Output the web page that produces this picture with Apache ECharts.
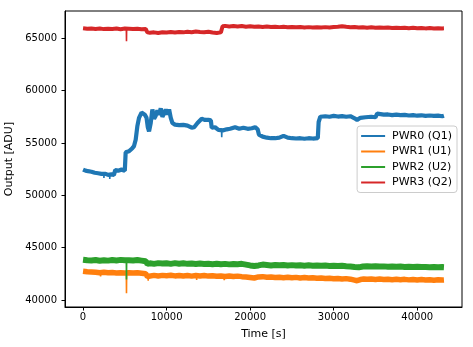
<!DOCTYPE html>
<html>
<head>
<meta charset="utf-8">
<script src="https://cdn.jsdelivr.net/npm/echarts@6/dist/echarts.min.js"></script>
<style>html,body{margin:0;padding:0;background:#fff}#c{width:473px;height:347px}</style>
</head>
<body>
<div id="c"></div>
<script>
const seriesNames = ['PWR0 (Q1)', 'PWR1 (U1)', 'PWR2 (U2)', 'PWR3 (Q2)'];
const xTicks = [0, 10000, 20000, 30000, 40000];
const yTicks = [40000, 45000, 50000, 55000, 60000, 65000];

const pwr0 = [[0,52450],[300,52350],[600,52300],[1000,52250],[1400,52150],[1800,52100],[2200,52050],[2700,52050],[3000,51950],[3400,52000],[3700,51950],[3850,52400],[4200,52350],[4600,52450],[5000,52350],[5100,54100],[5500,54200],[5900,54500],[6100,54700],[6300,55300],[6500,56600],[6700,57400],[7000,57900],[7200,58000],[7400,57700],[7600,57400],[7750,56500],[7900,56100],[8100,56900],[8300,58200],[8500,57300],[8700,57600],[8900,58100],[9100,57700],[9300,58300],[9500,57500],[9700,57800],[9900,58200],[10100,57700],[10300,58200],[10500,57400],[10700,56900],[11000,56750],[11500,56700],[12000,56720],[12500,56650],[13000,56450],[13300,56500],[13700,56900],[14200,57300],[14600,57200],[15000,57200],[15300,57150],[15400,56450],[15800,56500],[16200,56250],[16800,56200],[17200,56300],[17600,56350],[18200,56500],[18700,56350],[19200,56450],[19700,56350],[20200,56400],[20600,56500],[20900,56300],[21050,55800],[21500,55600],[22000,55500],[22500,55450],[23000,55450],[23500,55500],[24000,55680],[24500,55500],[25000,55450],[25500,55420],[26000,55450],[26500,55400],[27000,55450],[27500,55420],[28100,55450],[28200,57000],[28400,57500],[29000,57550],[29500,57500],[30000,57580],[30500,57520],[31000,57560],[31500,57500],[32000,57550],[32500,57350],[32800,57200],[33200,57400],[33800,57450],[34500,57500],[35000,57450],[35200,57800],[35600,57750],[36000,57700],[36500,57720],[37000,57650],[37500,57700],[38000,57650],[38500,57680],[39000,57620],[39500,57660],[40000,57600],[40500,57640],[41000,57580],[41500,57620],[42000,57580],[42500,57600],[43000,57550],[43200,57600]];

const pwr1 = [[0,42750],[500,42700],[1000,42680],[1500,42650],[2000,42600],[2500,42650],[3000,42600],[3500,42620],[4000,42580],[4500,42600],[5000,42580],[5500,42600],[6000,42570],[6500,42600],[7000,42550],[7500,42500],[7700,42250],[7900,42300],[8500,42350],[9000,42300],[9500,42350],[10000,42320],[10500,42360],[11000,42300],[11500,42340],[12000,42290],[12500,42330],[13000,42280],[13500,42330],[14000,42300],[14500,42340],[15000,42280],[15500,42310],[16000,42260],[16500,42300],[17000,42250],[17500,42290],[18000,42240],[18500,42280],[19000,42230],[19500,42200],[20000,42150],[20500,42100],[21000,42200],[21500,42230],[22000,42180],[22500,42200],[23000,42150],[23500,42180],[24000,42130],[24500,42170],[25000,42120],[25500,42160],[26000,42100],[26500,42140],[27000,42090],[27500,42120],[28000,42070],[28500,42100],[29000,42050],[29500,42080],[30000,42030],[30500,42060],[31000,42010],[31500,42040],[32000,41990],[32500,41900],[32800,41840],[33200,41950],[33600,42000],[34000,41970],[34500,42010],[35000,41960],[35500,42000],[36000,41950],[36500,41990],[37000,41940],[37500,41980],[38000,41930],[38500,41970],[39000,41920],[39500,41960],[40000,41910],[40500,41950],[41000,41900],[41500,41940],[42000,41890],[42500,41930],[43000,41900],[43200,41910]];

const pwr2 = [[0,43850],[500,43800],[1000,43780],[1500,43820],[2000,43750],[2500,43800],[3000,43760],[3500,43820],[4000,43780],[4500,43830],[5000,43800],[5500,43800],[6000,43780],[6500,43820],[7000,43760],[7500,43700],[7700,43450],[8000,43500],[8500,43450],[9000,43520],[9500,43480],[10000,43500],[10500,43450],[11000,43520],[11500,43470],[12000,43500],[12500,43450],[13000,43480],[13500,43430],[14000,43480],[14500,43440],[15000,43470],[15500,43420],[16000,43460],[16500,43410],[17000,43450],[17500,43400],[18000,43440],[18500,43420],[19000,43450],[19500,43380],[20000,43300],[20500,43250],[21000,43300],[21500,43380],[22000,43340],[22500,43300],[23000,43350],[23500,43320],[24000,43340],[24500,43300],[25000,43330],[25500,43290],[26000,43320],[26500,43280],[27000,43310],[27500,43270],[28000,43300],[28500,43260],[29000,43290],[29500,43250],[30000,43280],[30500,43240],[31000,43270],[31500,43230],[32000,43200],[32500,43150],[33000,43120],[33500,43200],[34000,43230],[34500,43200],[35000,43220],[35500,43190],[36000,43210],[36500,43180],[37000,43200],[37500,43170],[38000,43190],[38500,43160],[39000,43180],[39500,43150],[40000,43170],[40500,43140],[41000,43160],[41500,43130],[42000,43150],[42500,43120],[43000,43140],[43200,43130]];

const pwr3 = [[0,65950],[500,65900],[1000,65930],[1500,65880],[2000,65920],[2500,65870],[3000,65910],[3500,65890],[4000,65930],[4500,65860],[5000,65920],[5500,65900],[6000,65870],[6500,65910],[7000,65850],[7500,65880],[7700,65560],[8000,65520],[8500,65560],[9000,65500],[9500,65570],[10000,65540],[10500,65590],[11000,65550],[11500,65600],[12000,65560],[12500,65620],[13000,65580],[13500,65640],[14000,65600],[14500,65570],[15000,65610],[15500,65540],[16000,65500],[16500,65560],[16700,66150],[17000,66180],[17500,66130],[18000,66170],[18500,66120],[19000,66160],[19500,66100],[20000,66140],[20500,66090],[21000,66120],[21500,66080],[22000,66110],[22500,66070],[23000,66100],[23500,66060],[24000,66090],[24500,66050],[25000,66080],[25500,66040],[26000,66070],[26500,66030],[27000,66060],[27500,66020],[28000,66050],[28500,66020],[29000,66060],[29500,66030],[30000,66070],[30500,66100],[31000,66150],[31500,66090],[32000,66040],[32500,66070],[33000,66020],[33500,66050],[34000,66010],[34500,66040],[35000,66000],[35500,66030],[36000,65990],[36500,66020],[37000,65980],[37500,66010],[38000,65970],[38500,66000],[39000,65960],[39500,65990],[40000,65950],[40500,65980],[41000,65940],[41500,65970],[42000,65930],[42500,65960],[43000,65940],[43200,65950]];

// short narrow glitches (drawn thin, same channel colours)
const spikes0 = [[2480,52000],[2500,51650],[2520,52000],null,[3180,52000],[3200,51550],[3220,52000],null,[16580,56100],[16600,55550],[16620,56100],[16700,56200]];
const spikes1 = [[2080,42600],[2100,42250],[2120,42600],null,[5180,42500],[5200,40650],[5220,42500],null,[7780,42300],[7800,41850],[7820,42300],null,[13580,42300],[13600,41900],[13620,42300],null,[16880,42250],[16900,41900],[16920,42250]];
const spikes2 = [[5180,43750],[5200,41950],[5220,43750]];
const spikes3 = [[5180,65900],[5200,64700],[5220,65900]];

const colors = ['#1f77b4', '#ff7f0e', '#2ca02c', '#d62728'];
const widths = [4.2, 5.5, 6, 4];
const datas = [pwr0, pwr1, pwr2, pwr3];
const spikeDatas = [spikes0, spikes1, spikes2, spikes3];

const fmt = v => String(v);
const chart = echarts.init(document.getElementById('c'), null, {renderer: 'canvas'});
const series = [];
seriesNames.forEach((n, i) => {
  series.push({
    name: n, type: 'line', data: datas[i], symbol: 'none', showSymbol: false,
    lineStyle: {width: widths[i], color: colors[i]}, itemStyle: {color: colors[i]},
    z: 2 + 2 * i
  });
  series.push({
    name: n, type: 'line', data: spikeDatas[i], symbol: 'none', showSymbol: false, connectNulls: false,
    lineStyle: {width: 1.6, color: colors[i]}, itemStyle: {color: colors[i]},
    z: 3 + 2 * i
  });
});
chart.setOption({
  animation: false,
  backgroundColor: '#fff',
  textStyle: {fontFamily: 'DejaVu Sans'},
  color: colors,
  grid: {left: 65, right: 11, top: 11, bottom: 40, show: true, borderColor: '#000', borderWidth: 1, containLabel: false, outerBoundsMode: 'none'},
  xAxis: {
    type: 'value', min: -2160, max: 45360,
    name: 'Time [s]', nameLocation: 'middle', nameGap: 22,
    nameTextStyle: {fontSize: 11, color: '#000'},
    axisLine: {show: true, onZero: false, lineStyle: {color: '#000', width: 1}},
    axisTick: {show: true, length: 3.5, lineStyle: {color: '#000'}, customValues: xTicks},
    axisLabel: {fontSize: 10, color: '#000', margin: 5, customValues: xTicks, formatter: fmt},
    splitLine: {show: false}
  },
  yAxis: {
    type: 'value', min: 39330, max: 67600,
    name: 'Output [ADU]', nameLocation: 'middle', nameGap: 47,
    nameTextStyle: {fontSize: 11, color: '#000'},
    axisLine: {show: true, onZero: false, lineStyle: {color: '#000', width: 1}},
    axisTick: {show: true, length: 3.5, lineStyle: {color: '#000'}, customValues: yTicks},
    axisLabel: {fontSize: 10, color: '#000', margin: 8, customValues: yTicks, formatter: fmt},
    splitLine: {show: false}
  },
  legend: {
    orient: 'vertical', right: 16, top: 126,
    icon: 'rect', itemWidth: 24, itemHeight: 2, itemGap: 3.5,
    padding: [4, 5, 4, 4],
    borderColor: '#ccc', borderWidth: 1, borderRadius: 3,
    backgroundColor: 'rgba(255,255,255,0.8)',
    textStyle: {fontSize: 11, color: '#000', lineHeight: 12, padding: [0, 0, 0, 2]},
    data: seriesNames
  },
  series: series
});
</script>
</body>
</html>
